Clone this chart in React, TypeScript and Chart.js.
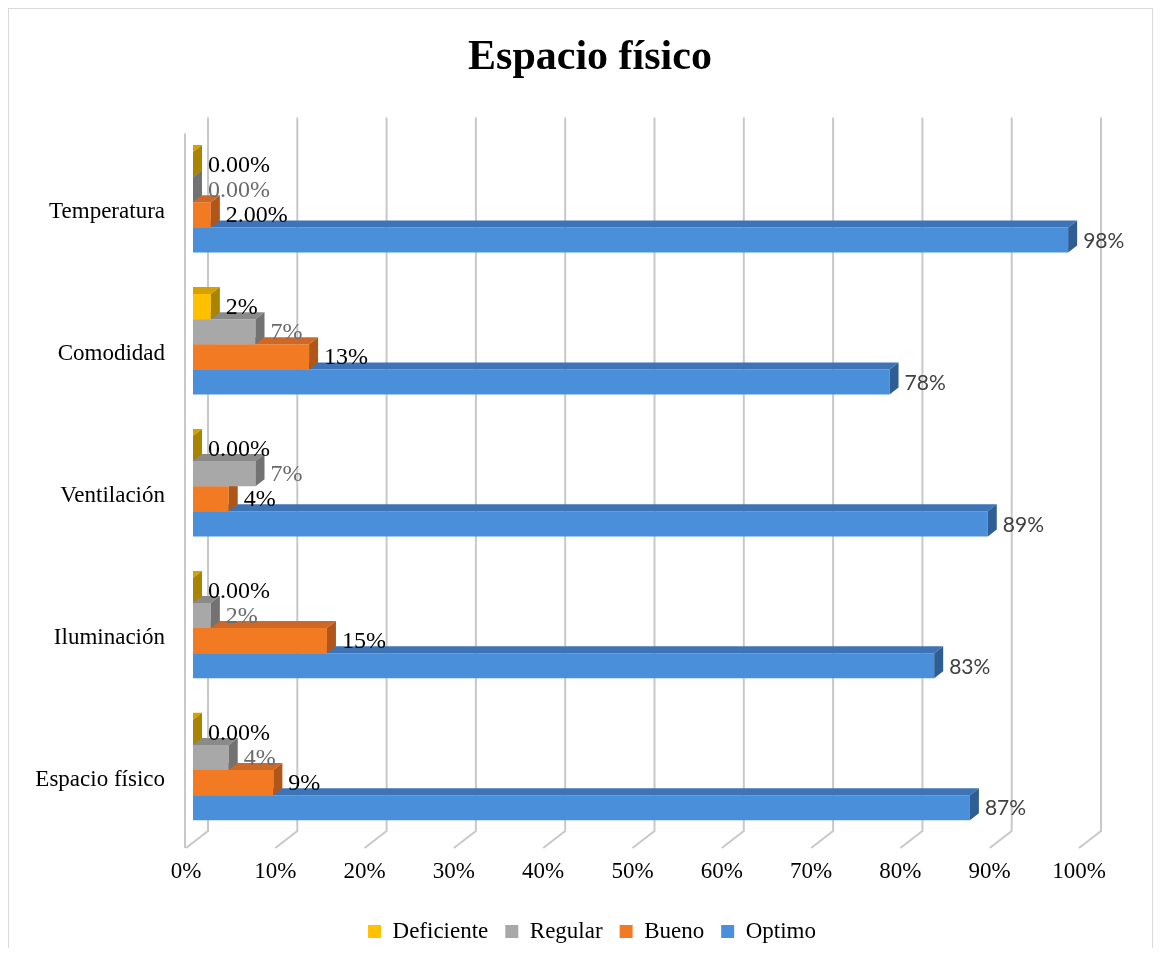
import React, { useEffect, useRef } from 'react';
import { Chart, registerables } from 'chart.js';

Chart.register(...registerables);

const categories = ['Temperatura', 'Comodidad', 'Ventilación', 'Iluminación', 'Espacio físico'];
const seriesNames = ['Deficiente', 'Regular', 'Bueno', 'Optimo'];
const deficiente = [0, 2, 0, 0, 0];
const regular = [0, 7, 7, 2, 4];
const bueno = [2, 13, 4, 15, 9];
const optimo = [98, 78, 89, 83, 87];
const deficienteLabels = ['0.00%', '2%', '0.00%', '0.00%', '0.00%'];
const regularLabels = ['0.00%', '7%', '7%', '2%', '4%'];
const buenoLabels = ['2.00%', '13%', '4%', '15%', '9%'];
const optimoLabels = ['98%', '78%', '89%', '83%', '87%'];
const xTickValues = [0, 10, 20, 30, 40, 50, 60, 70, 80, 90, 100];

const frontColors = ['#FFC000', '#A8A8A8', '#F27A22', '#4A8FD9'];
const topColors = ['#D6A000', '#8A8A8A', '#CE6826', '#3E74B5'];
const sideColors = ['#A88400', '#727272', '#B0561A', '#2F5E95'];
const labelColors = ['#000000', '#6A6A6A', '#000000', '#404040'];
const labelFonts = [
  '24px "Liberation Serif"',
  '24px "Liberation Serif"',
  '24px "Liberation Serif"',
  '21px Lato',
];
const seriesValues = [deficiente, regular, bueno, optimo];
const seriesLabels = [deficienteLabels, regularLabels, buenoLabels, optimoLabels];

const DX = 9;
const DY = 7;

// Re-centre the title and legend over the whole chart frame (not only the padded area)
const recenter = {
  id: 'recenter',
  afterLayout(chart: any) {
    const w = chart.width;
    if (chart.titleBlock) {
      chart.titleBlock.left = 0;
      chart.titleBlock.right = w + 19;
      chart.titleBlock.width = w + 19;
    }
    if (chart.legend) {
      chart.legend.left = 0;
      chart.legend.right = w + 23;
      chart.legend.width = w + 23;
    }
  },
};

const grid3d = {
  id: 'grid3d',
  beforeDatasetsDraw(chart: any) {
    const { ctx, chartArea, scales } = chart;
    const xs = scales.x;
    const backTop = chartArea.top - 14;
    const backBottom = chartArea.bottom - 10;
    const frontBottom = chartArea.bottom + 7;
    ctx.save();
    ctx.strokeStyle = '#c8c8c8';
    ctx.lineWidth = 2;
    for (const v of xTickValues) {
      const px = xs.getPixelForValue(v);
      ctx.beginPath();
      ctx.moveTo(px + 15, backTop);
      ctx.lineTo(px + 15, backBottom);
      ctx.lineTo(px - 7, frontBottom);
      ctx.stroke();
    }
    const x0 = xs.getPixelForValue(0) - 8;
    ctx.beginPath();
    ctx.moveTo(x0, chartArea.top + 2);
    ctx.lineTo(x0, frontBottom);
    ctx.stroke();
    ctx.restore();
  },
};

const bars3d = {
  id: 'bars3d',
  afterDatasetDraw(chart: any, args: any) {
    const ctx = chart.ctx;
    const i = args.index;
    const meta = args.meta;
    ctx.save();
    meta.data.forEach((el: any) => {
      const { x, y, base, height } = el.getProps(['x', 'y', 'base', 'height'], true);
      const left = Math.min(x, base);
      const right = Math.max(x, base);
      const top = y - height / 2;
      const bottom = y + height / 2;
      ctx.fillStyle = topColors[i];
      ctx.beginPath();
      ctx.moveTo(left, top);
      ctx.lineTo(right, top);
      ctx.lineTo(right + DX, top - DY);
      ctx.lineTo(left, top - DY);
      ctx.closePath();
      ctx.fill();
      ctx.fillStyle = sideColors[i];
      ctx.beginPath();
      ctx.moveTo(right, top);
      ctx.lineTo(right + DX, top - DY);
      ctx.lineTo(right + DX, bottom - DY);
      ctx.lineTo(right, bottom);
      ctx.closePath();
      ctx.fill();
    });
    ctx.restore();
  },
  afterDatasetsDraw(chart: any) {
    const ctx = chart.ctx;
    ctx.save();
    ctx.textAlign = 'left';
    ctx.textBaseline = 'middle';
    chart.data.datasets.forEach((_ds: any, i: number) => {
      const meta = chart.getDatasetMeta(i);
      meta.data.forEach((el: any, j: number) => {
        const { x, y, base } = el.getProps(['x', 'y', 'base'], true);
        const right = Math.max(x, base);
        ctx.font = labelFonts[i];
        ctx.fillStyle = labelColors[i];
        ctx.fillText(seriesLabels[i][j], right + DX + 6, y + 1);
      });
    });
    ctx.restore();
  },
};

export default function App() {
  const ref = useRef<HTMLCanvasElement | null>(null);
  useEffect(() => {
    if (!ref.current) return;
    Chart.defaults.color = '#000';
    const chart = new Chart(ref.current, {
      type: 'bar',
      data: {
        labels: categories,
        datasets: seriesNames.map((name, i) => ({
          label: name,
          data: seriesValues[i],
          backgroundColor: frontColors[i],
          borderWidth: 0,
          categoryPercentage: 0.708,
          barPercentage: 1.0,
        })),
      },
      options: {
        indexAxis: 'y',
        responsive: false,
        animation: false,
        layout: { padding: { left: 0, right: 66, top: 0, bottom: 4 } },
        scales: {
          x: {
            min: 0,
            max: 100,
            grid: { display: false, drawTicks: false },
            border: { display: false },
            afterFit: (s: any) => {
              s.height = 62;
            },
            ticks: {
              stepSize: 10,
              padding: 17,
              labelOffset: -7,
              color: '#000',
              font: { family: 'Liberation Serif', size: 23 },
              callback: (v: any) => v + '%',
            },
          },
          y: {
            grid: { display: false, drawTicks: false },
            border: { display: false },
            afterFit: (s: any) => {
              s.width = 184;
            },
            ticks: {
              padding: 28,
              labelOffset: 10,
              color: '#000',
              font: { family: 'Liberation Serif', size: 23 },
            },
          },
        },
        plugins: {
          title: {
            display: true,
            text: 'Espacio físico',
            color: '#000',
            font: { family: 'Liberation Serif', size: 42, weight: 'bold' },
            padding: { top: 24, bottom: 48 },
          },
          legend: {
            position: 'bottom',
            labels: {
              boxWidth: 13,
              boxHeight: 13,
              padding: 17,
              color: '#000',
              font: { family: 'Liberation Serif', size: 23 },
            },
          },
          tooltip: { enabled: false },
        },
      },
      plugins: [recenter, grid3d, bars3d],
    } as any);
    return () => chart.destroy();
  }, []);
  return (
    <div
      style={{
        width: 1143,
        height: 948,
        border: '1px solid #d9d9d9',
        marginBottom: -10,
        background: '#fff',
      }}
    >
      <canvas ref={ref} width={1143} height={948} style={{ display: 'block' }} />
    </div>
  );
}
